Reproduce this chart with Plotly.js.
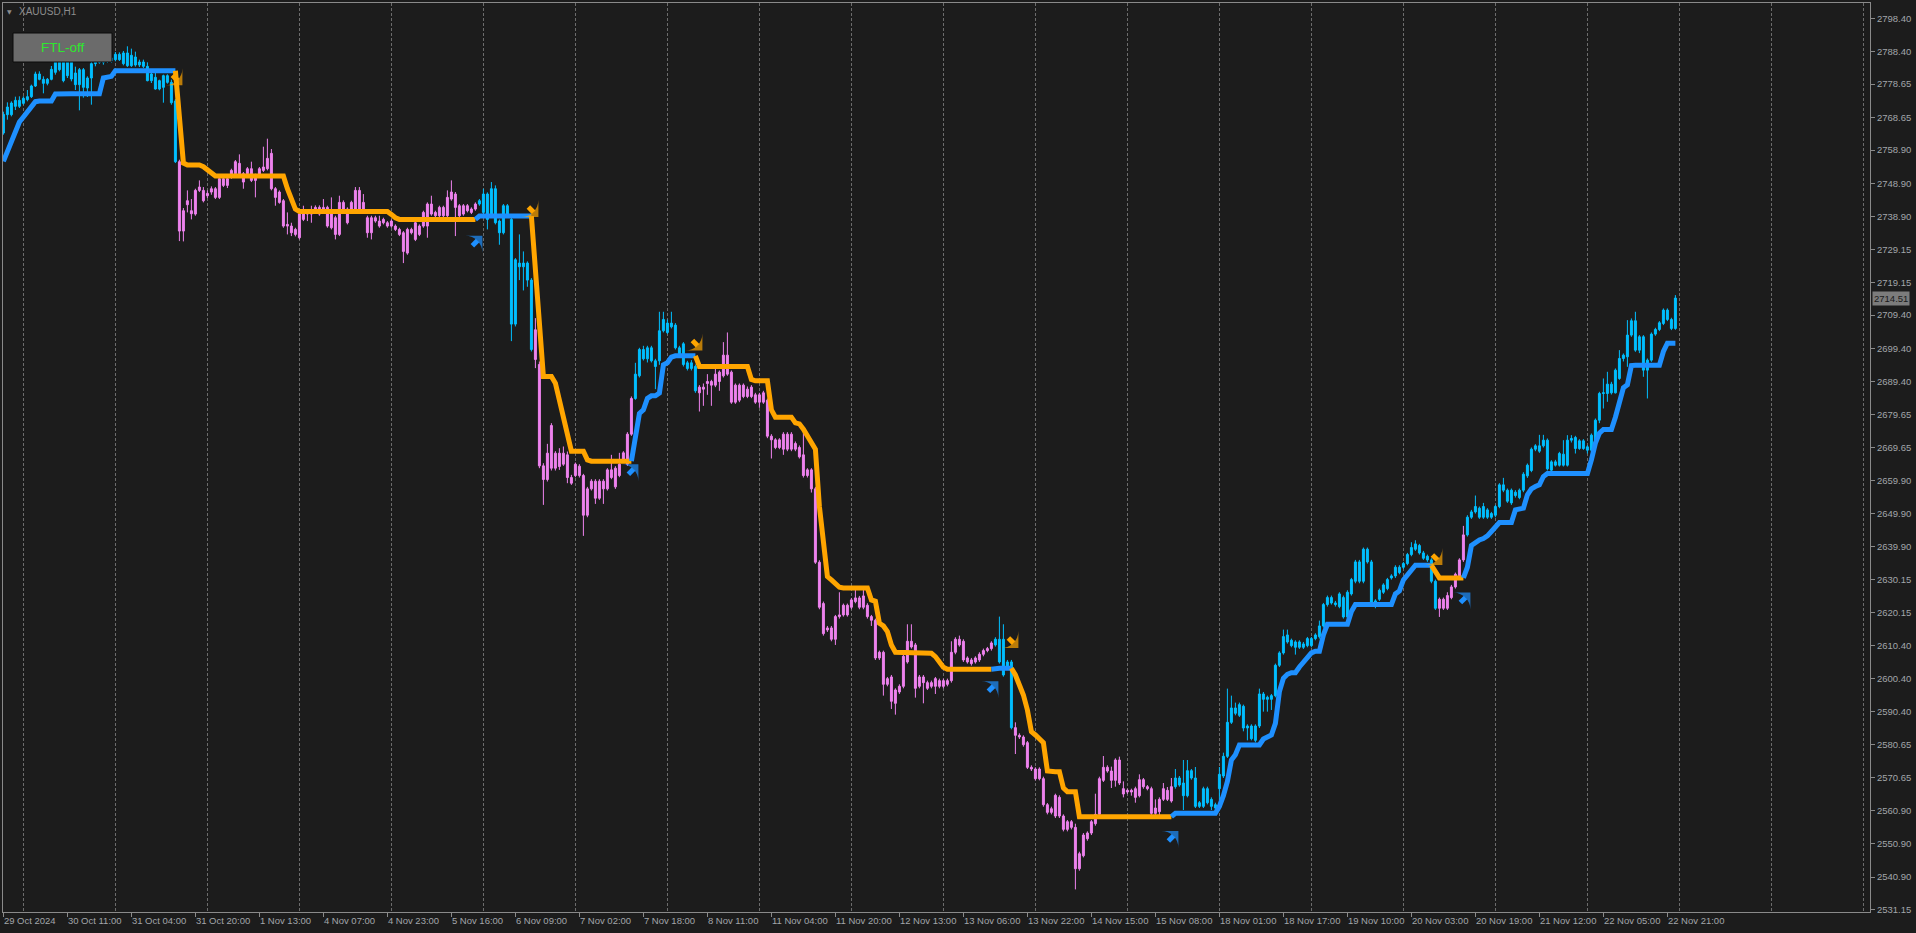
<!DOCTYPE html>
<html>
<head>
<meta charset="utf-8">
<script src="https://cdn.plot.ly/plotly-3.0.1.min.js"></script>
<style>
html,body{margin:0;padding:0;background:#1c1c1c;overflow:hidden;}
#chart{width:1916px;height:933px;}
</style>
</head>
<body>
<div id="chart"></div>
<script>
// ---------- DATA ----------
const symbolTitle = 'XAUUSD,H1';
const buttonText = 'FTL-off';

const xLabels = ['29 Oct 2024','30 Oct 11:00','31 Oct 04:00','31 Oct 20:00','1 Nov 13:00','4 Nov 07:00','4 Nov 23:00','5 Nov 16:00','6 Nov 09:00','7 Nov 02:00','7 Nov 18:00','8 Nov 11:00','11 Nov 04:00','11 Nov 20:00','12 Nov 13:00','13 Nov 06:00','13 Nov 22:00','14 Nov 15:00','15 Nov 08:00','18 Nov 01:00','18 Nov 17:00','19 Nov 10:00','20 Nov 03:00','20 Nov 19:00','21 Nov 12:00','22 Nov 05:00','22 Nov 21:00'];
const xLabelBars = [0,16,32,48,64,80,96,112,128,144,160,176,192,208,224,240,256,272,288,304,320,336,352,368,384,400,416];

const yTickLabels = ['2798.40','2788.40','2778.65','2768.65','2758.90','2748.90','2738.90','2729.15','2719.15','2709.40','2699.40','2689.40','2679.65','2669.65','2659.90','2649.90','2639.90','2630.15','2620.15','2610.40','2600.40','2590.40','2580.65','2570.65','2560.90','2550.90','2540.90','2531.15'];

const open = [
2764.0,2769.5,2769.5,2772.0,2773.8,2772.9,2774.0,2774.9,2778.1,2781.7,
2780.1,2778.9,2780.1,2782.2,2785.8,2785.5,2781.2,2785.5,2782.0,2778.5,
2783.0,2777.5,2780.5,2784.8,2786.0,2785.2,2786.3,2785.6,2786.0,2787.6,
2784.8,2788.0,2784.2,2786.8,2784.4,2785.3,2784.0,2779.7,2780.7,2777.2,
2781.2,2779.2,2779.2,2773.6,2755.4,2734.6,2742.5,2740.7,2739.7,2746.8,
2746.8,2745.2,2746.3,2747.3,2744.7,2750.3,2748.3,2750.8,2751.8,2754.9,
2751.8,2751.8,2753.3,2749.8,2751.3,2752.8,2753.3,2757.9,2747.3,2743.2,
2743.7,2736.1,2736.1,2735.1,2732.6,2738.1,2740.2,2739.7,2740.2,2741.7,
2740.7,2741.7,2735.6,2738.6,2733.6,2743.2,2741.2,2741.2,2741.2,2746.8,
2741.2,2738.6,2734.1,2738.6,2737.6,2737.1,2737.1,2736.1,2736.1,2735.1,
2734.1,2728.0,2735.1,2732.1,2736.1,2736.1,2736.1,2742.7,2739.2,2739.2,
2741.7,2739.2,2744.2,2745.7,2742.2,2739.7,2742.2,2740.2,2741.2,2742.7,
2740.2,2745.7,2739.2,2747.3,2737.6,2734.1,2742.2,2738.1,2706.7,2725.0,
2723.9,2725.0,2719.9,2705.0,2694.6,2664.2,2660.1,2663.5,2668.0,2664.0,
2668.0,2667.5,2660.7,2661.3,2664.1,2661.3,2649.4,2657.3,2659.6,2654.5,
2659.6,2657.3,2663.0,2657.9,2661.3,2665.8,2664.7,2673.7,2684.4,2691.2,
2699.1,2696.3,2699.6,2695.7,2695.7,2704.7,2707.0,2705.9,2706.4,2699.6,
2700.8,2693.4,2695.1,2694.0,2686.1,2687.8,2688.9,2689.5,2688.4,2692.3,
2691.2,2697.4,2692.3,2683.3,2688.4,2685.0,2687.2,2685.0,2685.5,2683.3,
2686.1,2683.9,2673.1,2672.0,2669.7,2673.7,2669.2,2673.7,2669.2,2669.7,
2667.5,2661.3,2663.0,2657.3,2635.3,2622.9,2615.0,2615.6,2612.2,2619.0,
2619.5,2622.4,2621.8,2623.5,2624.6,2621.8,2622.4,2619.0,2617.9,2606.6,
2608.3,2598.7,2600.9,2593.0,2596.4,2598.1,2605.4,2611.6,2610.5,2598.1,
2600.9,2599.2,2598.1,2600.4,2598.1,2599.8,2598.7,2599.8,2608.3,2612.2,
2611.6,2605.4,2606.0,2605.4,2606.0,2607.7,2608.8,2609.4,2610.5,2612.2,
2612.2,2603.7,2605.4,2585.7,2583.4,2582.9,2581.2,2573.8,2573.3,2570.4,
2570.4,2562.6,2560.3,2559.2,2564.8,2559.2,2555.2,2557.5,2555.8,2543.4,
2547.3,2552.4,2554.1,2556.9,2559.7,2569.9,2573.8,2572.7,2569.9,2576.0,
2567.4,2566.4,2566.9,2567.4,2565.3,2570.1,2568.0,2567.4,2560.0,2560.5,
2564.2,2566.9,2563.7,2568.0,2570.6,2569.1,2565.3,2572.8,2570.6,2562.1,
2562.1,2567.4,2564.2,2561.6,2567.4,2571.2,2577.1,2587.3,2591.6,2589.4,
2592.1,2585.6,2586.2,2581.9,2586.2,2595.8,2594.2,2594.2,2595.3,2604.4,
2608.1,2613.5,2611.9,2609.8,2611.4,2609.8,2610.3,2612.4,2612.4,2613.0,
2616.2,2622.6,2624.7,2623.1,2622.0,2624.7,2618.9,2625.8,2629.6,2635.4,
2629.6,2639.2,2635.4,2622.6,2624.2,2626.3,2627.4,2630.6,2631.2,2633.8,
2633.8,2634.9,2637.6,2639.2,2640.3,2638.1,2637.1,2636.0,2629.6,2621.5,
2624.2,2621.5,2624.7,2627.9,2631.2,2636.0,2643.5,2648.8,2650.4,2651.5,
2648.8,2651.0,2648.8,2649.4,2652.0,2658.5,2656.9,2653.1,2656.3,2654.7,
2656.9,2661.2,2662.8,2669.2,2670.2,2670.2,2671.9,2662.9,2665.4,2664.4,
2667.7,2664.4,2671.9,2672.7,2669.4,2671.7,2669.9,2668.9,2671.9,2677.9,
2685.9,2685.9,2688.7,2686.1,2690.4,2696.4,2696.9,2703.4,2707.7,2698.9,
2702.9,2692.9,2695.9,2703.7,2705.1,2706.9,2710.9,2708.1,2705.4];

const high = [
2770.4,2773.2,2773.5,2774.9,2775.0,2775.0,2776.9,2778.5,2782.4,2782.5,
2781.0,2780.5,2784.1,2786.5,2787.0,2786.5,2786.5,2786.5,2783.9,2783.5,
2783.5,2781.0,2785.5,2786.5,2787.0,2786.8,2787.5,2787.0,2788.3,2788.2,
2788.6,2790.0,2789.3,2788.4,2786.0,2786.0,2785.2,2782.0,2782.0,2780.0,
2781.5,2781.6,2780.0,2774.2,2756.0,2741.5,2746.8,2744.2,2747.3,2749.8,
2747.8,2746.8,2748.0,2747.8,2750.8,2751.0,2750.8,2753.3,2755.9,2757.6,
2752.3,2753.8,2755.4,2751.8,2753.8,2759.9,2762.3,2759.2,2747.8,2746.8,
2744.2,2740.2,2737.1,2735.6,2740.2,2742.2,2740.8,2742.2,2742.3,2742.3,
2744.2,2742.2,2744.7,2739.2,2745.2,2743.8,2741.7,2743.7,2747.8,2747.8,
2745.7,2739.2,2739.2,2739.2,2739.2,2738.6,2737.6,2738.1,2736.6,2735.6,
2734.6,2735.6,2735.6,2737.6,2736.6,2740.7,2743.2,2745.2,2740.7,2742.2,
2742.2,2746.8,2749.8,2746.3,2742.7,2742.7,2742.7,2741.7,2743.2,2744.2,
2747.3,2746.2,2749.3,2748.3,2738.1,2742.7,2742.7,2739.0,2726.5,2733.6,
2728.5,2725.5,2720.5,2708.5,2695.5,2665.0,2670.8,2677.0,2668.6,2669.5,
2670.0,2668.5,2661.5,2665.2,2664.7,2661.8,2657.9,2660.2,2660.2,2660.2,
2660.2,2663.5,2667.5,2664.1,2668.1,2668.6,2674.3,2685.0,2695.1,2699.6,
2700.2,2700.2,2700.2,2696.3,2710.4,2710.4,2708.1,2710.4,2707.0,2700.2,
2701.3,2695.7,2695.9,2694.6,2688.4,2688.9,2691.7,2690.0,2694.6,2692.8,
2701.3,2704.2,2692.8,2688.9,2688.9,2688.9,2688.0,2688.4,2686.1,2686.1,
2686.7,2684.4,2673.7,2672.5,2672.5,2674.3,2674.3,2674.3,2671.5,2670.3,
2674.3,2663.5,2663.5,2657.9,2635.9,2623.5,2616.2,2616.2,2619.5,2626.3,
2622.9,2622.9,2624.6,2627.4,2625.2,2627.4,2623.0,2619.5,2618.4,2608.8,
2608.8,2600.9,2601.5,2597.5,2598.7,2607.7,2616.7,2616.7,2611.1,2601.5,
2601.5,2599.8,2599.8,2600.9,2600.4,2600.4,2600.4,2611.6,2612.8,2613.3,
2612.2,2607.1,2606.6,2607.1,2608.3,2609.4,2609.9,2611.6,2612.8,2619.0,
2616.7,2606.0,2606.0,2587.3,2584.0,2583.4,2581.7,2574.4,2573.8,2573.8,
2571.0,2563.1,2562.0,2565.9,2565.4,2559.7,2558.0,2558.0,2556.9,2548.5,
2554.1,2554.6,2558.0,2565.9,2571.0,2577.2,2574.4,2574.0,2576.5,2577.0,
2569.6,2567.4,2567.4,2568.0,2571.7,2570.6,2568.5,2568.0,2564.2,2564.8,
2569.1,2567.9,2570.6,2573.3,2571.2,2576.0,2576.0,2573.3,2573.9,2563.7,
2568.0,2568.0,2564.8,2563.2,2573.9,2578.2,2597.4,2595.3,2593.2,2593.2,
2592.6,2586.7,2586.7,2586.7,2597.4,2596.4,2595.3,2595.8,2604.9,2608.6,
2615.1,2615.1,2612.4,2611.9,2611.9,2611.4,2612.9,2612.9,2614.0,2617.8,
2623.1,2625.3,2625.3,2623.7,2626.3,2625.3,2626.9,2630.6,2636.0,2636.0,
2639.7,2639.7,2636.0,2624.2,2627.4,2629.0,2630.6,2631.7,2634.4,2634.4,
2635.4,2638.1,2641.3,2641.9,2640.8,2638.7,2637.6,2636.5,2630.1,2624.7,
2624.7,2626.3,2628.5,2632.2,2636.5,2646.2,2649.4,2651.0,2655.3,2652.0,
2653.1,2651.5,2650.4,2652.5,2659.0,2660.6,2657.4,2657.4,2656.9,2657.4,
2662.3,2664.9,2669.7,2670.7,2673.5,2673.5,2672.4,2665.9,2666.0,2668.4,
2671.9,2673.4,2673.4,2673.2,2672.2,2672.2,2670.4,2673.9,2678.4,2686.4,
2690.4,2692.4,2689.4,2693.4,2698.9,2697.9,2707.9,2708.4,2710.4,2703.4,
2703.4,2696.4,2704.2,2705.6,2707.6,2711.4,2711.4,2708.6,2715.4];

const low = [
2763.5,2768.0,2769.0,2770.9,2771.5,2772.5,2773.5,2774.5,2777.8,2779.8,
2775.9,2778.3,2779.8,2781.5,2782.5,2779.2,2780.5,2779.5,2776.9,2770.8,
2774.6,2774.8,2772.5,2784.0,2784.8,2784.5,2785.0,2785.0,2785.5,2785.6,
2784.3,2783.8,2783.8,2783.9,2783.8,2783.5,2779.5,2779.0,2777.0,2776.8,
2773.1,2778.8,2772.5,2755.0,2731.6,2731.5,2740.2,2738.1,2739.2,2746.3,
2743.2,2744.5,2745.5,2744.2,2744.2,2747.8,2747.5,2750.3,2751.3,2751.5,
2747.3,2751.0,2749.3,2744.7,2750.8,2752.3,2752.8,2746.8,2742.2,2742.8,
2735.6,2733.6,2733.1,2733.0,2732.1,2737.6,2737.6,2737.1,2739.8,2739.2,
2740.2,2735.6,2735.1,2732.1,2733.1,2740.7,2736.6,2740.7,2740.7,2740.7,
2740.7,2732.6,2732.1,2737.1,2735.6,2736.6,2735.6,2735.6,2734.6,2733.1,
2725.0,2727.5,2733.6,2731.6,2733.1,2735.6,2732.6,2739.2,2738.6,2738.6,
2738.6,2738.6,2743.7,2733.1,2738.6,2739.2,2740.2,2739.7,2740.7,2742.2,
2739.7,2735.1,2738.6,2736.6,2730.5,2733.6,2739.2,2701.6,2706.0,2719.9,
2716.8,2717.9,2698.5,2693.5,2663.5,2652.5,2659.5,2662.8,2662.8,2663.0,
2664.2,2659.0,2658.5,2660.8,2660.7,2643.2,2648.8,2656.8,2652.8,2654.0,
2652.8,2656.8,2660.2,2657.3,2660.8,2665.2,2664.2,2673.2,2684.0,2690.7,
2695.8,2695.2,2695.2,2687.2,2694.5,2704.2,2703.7,2705.4,2699.1,2696.8,
2694.0,2692.8,2692.8,2686.1,2680.5,2682.2,2685.5,2682.2,2687.8,2686.7,
2690.7,2691.2,2682.8,2682.8,2683.3,2684.5,2684.5,2684.5,2682.8,2681.6,
2682.8,2672.5,2666.4,2669.2,2669.2,2667.5,2668.6,2668.6,2668.6,2666.4,
2660.7,2660.7,2656.2,2634.8,2621.2,2613.3,2614.4,2611.6,2610.5,2618.4,
2619.0,2619.0,2621.2,2623.0,2621.2,2621.2,2618.4,2616.2,2606.0,2606.0,
2595.3,2598.1,2591.3,2589.6,2595.8,2597.5,2604.9,2609.4,2594.7,2597.5,
2593.0,2597.0,2597.5,2595.8,2597.5,2597.5,2598.1,2599.2,2607.7,2610.0,
2605.4,2604.9,2604.3,2604.9,2605.4,2607.1,2608.3,2608.8,2610.0,2604.9,
2601.0,2603.2,2585.2,2577.8,2582.3,2580.0,2573.3,2572.7,2569.9,2569.9,
2562.0,2559.7,2559.7,2558.6,2558.6,2554.6,2554.6,2555.2,2537.2,2542.8,
2546.8,2551.8,2553.5,2556.3,2559.2,2569.4,2572.2,2567.6,2568.0,2568.5,
2564.8,2565.8,2565.3,2563.2,2564.8,2567.4,2566.9,2558.9,2559.5,2558.9,
2563.7,2563.7,2563.2,2567.4,2568.0,2561.0,2564.8,2570.1,2561.6,2561.6,
2561.6,2562.7,2561.0,2561.0,2562.0,2570.6,2576.6,2586.8,2589.4,2588.9,
2584.6,2581.9,2581.9,2581.3,2585.6,2590.5,2590.5,2591.0,2594.8,2603.9,
2607.6,2610.9,2609.8,2607.6,2609.3,2609.3,2609.8,2609.8,2611.9,2612.4,
2615.7,2622.0,2622.6,2622.0,2621.5,2618.4,2618.4,2625.3,2629.0,2629.0,
2629.0,2634.9,2622.6,2621.5,2623.7,2625.8,2626.9,2630.1,2630.6,2631.7,
2633.3,2634.4,2637.1,2638.7,2637.6,2636.0,2635.4,2629.0,2621.0,2618.9,
2621.0,2621.0,2624.2,2627.4,2630.6,2635.4,2643.0,2648.3,2649.9,2648.3,
2648.3,2648.3,2648.3,2648.8,2651.5,2656.3,2653.1,2652.5,2654.7,2654.2,
2656.3,2660.6,2662.3,2668.6,2668.1,2669.7,2662.8,2662.4,2664.0,2664.0,
2664.0,2664.0,2671.2,2667.9,2669.0,2669.0,2667.9,2668.4,2671.5,2677.0,
2681.4,2683.4,2685.6,2685.9,2690.0,2695.5,2693.9,2702.9,2698.4,2698.0,
2690.9,2684.4,2695.4,2703.2,2704.6,2706.4,2707.6,2704.9,2705.0];

const close = [
2769.6,2771.8,2773.0,2773.8,2772.0,2774.4,2774.9,2778.1,2781.7,2780.1,
2778.9,2780.1,2783.1,2785.8,2783.0,2779.7,2785.5,2780.2,2778.5,2783.0,
2777.7,2780.5,2784.8,2786.0,2785.2,2786.3,2785.6,2786.5,2787.6,2786.0,
2788.0,2784.2,2787.3,2784.4,2785.3,2784.0,2779.7,2781.7,2777.2,2779.7,
2777.7,2781.2,2773.1,2755.4,2734.6,2740.7,2743.7,2739.8,2746.8,2747.8,
2743.7,2745.9,2747.3,2744.7,2750.3,2748.3,2750.3,2752.8,2755.4,2751.8,
2749.3,2753.3,2749.8,2751.3,2753.3,2753.8,2756.4,2747.3,2744.7,2746.3,
2736.1,2736.6,2734.1,2733.6,2739.7,2740.2,2739.7,2739.9,2741.7,2739.7,
2741.7,2736.1,2740.2,2733.6,2743.2,2741.2,2737.1,2743.2,2746.8,2741.2,
2743.2,2734.1,2738.6,2737.6,2736.1,2738.1,2736.1,2737.6,2735.1,2733.6,
2728.5,2735.1,2734.1,2737.1,2733.6,2740.2,2742.7,2739.7,2740.2,2741.7,
2739.2,2744.7,2746.3,2741.7,2739.2,2742.2,2740.7,2741.2,2742.7,2743.7,
2745.7,2738.1,2747.3,2737.1,2734.1,2742.2,2739.7,2706.7,2726.0,2723.9,
2725.0,2719.9,2699.1,2696.1,2664.2,2660.1,2668.0,2676.3,2663.5,2668.0,
2664.7,2660.7,2659.0,2664.7,2661.3,2649.4,2657.3,2659.6,2654.5,2659.6,
2657.3,2663.0,2660.7,2663.5,2664.7,2668.1,2673.7,2684.4,2691.7,2699.1,
2696.3,2699.6,2695.7,2694.0,2704.7,2708.1,2704.2,2707.0,2699.6,2697.4,
2694.6,2695.1,2693.4,2686.7,2687.8,2687.2,2689.5,2688.4,2691.7,2689.5,
2697.4,2691.7,2683.3,2688.4,2683.9,2688.4,2685.0,2687.8,2683.3,2685.5,
2683.3,2673.1,2672.0,2669.7,2672.0,2669.2,2673.7,2669.2,2670.9,2666.9,
2661.3,2663.0,2657.3,2635.3,2621.8,2613.9,2615.6,2612.2,2619.0,2619.5,
2622.4,2619.5,2624.0,2624.6,2621.8,2625.2,2619.0,2617.9,2606.6,2608.3,
2598.7,2600.4,2593.6,2597.0,2598.1,2607.1,2611.6,2609.9,2597.5,2600.9,
2599.2,2597.5,2599.2,2598.1,2599.8,2598.1,2599.8,2608.3,2612.2,2610.5,
2606.0,2606.6,2604.9,2606.6,2607.7,2608.8,2609.4,2611.1,2612.2,2605.4,
2601.5,2605.4,2585.7,2583.4,2582.9,2580.6,2573.8,2573.3,2570.4,2573.3,
2562.6,2560.3,2561.4,2565.4,2559.2,2555.2,2557.5,2555.8,2543.4,2547.9,
2553.5,2554.1,2557.5,2559.7,2570.4,2573.8,2572.7,2569.9,2576.0,2569.1,
2565.8,2566.9,2566.4,2564.8,2570.1,2568.0,2567.4,2560.0,2561.6,2564.2,
2567.4,2564.2,2568.0,2570.6,2568.5,2565.3,2572.8,2570.6,2562.1,2563.2,
2567.4,2563.2,2562.1,2562.6,2571.7,2577.1,2587.3,2591.6,2590.0,2592.6,
2585.6,2586.2,2582.4,2586.2,2595.8,2594.2,2594.8,2595.3,2604.4,2608.1,
2613.0,2611.4,2610.3,2611.4,2609.8,2610.8,2612.4,2610.3,2613.5,2616.2,
2622.6,2624.7,2623.1,2622.6,2625.8,2618.9,2626.3,2630.1,2635.4,2629.6,
2639.2,2635.4,2623.1,2623.7,2626.9,2628.5,2630.1,2631.2,2633.8,2632.2,
2634.9,2637.6,2639.7,2640.8,2638.1,2636.5,2636.0,2629.6,2621.5,2624.2,
2621.5,2625.3,2627.9,2631.7,2636.0,2643.5,2648.8,2650.4,2652.0,2648.8,
2652.0,2648.8,2649.9,2652.0,2658.5,2656.9,2653.6,2656.9,2655.3,2656.9,
2661.7,2664.4,2669.2,2670.2,2668.6,2671.9,2663.3,2665.4,2664.4,2667.9,
2664.4,2671.9,2672.4,2669.4,2671.7,2669.4,2668.9,2673.4,2677.9,2685.9,
2686.1,2688.7,2686.1,2692.9,2696.4,2697.4,2703.4,2707.7,2698.9,2702.9,
2692.9,2695.9,2703.7,2705.1,2707.1,2710.9,2708.1,2705.4,2714.51];

// FTL trailing line value per bar
const ftl = [
2755.5,2758.5,2762.0,2765.2,2767.3,2768.8,2770.2,2772.0,2773.4,2773.6,
2773.6,2773.6,2773.6,2775.7,2775.8,2775.8,2775.8,2775.8,2775.8,2775.8,
2775.8,2775.8,2775.8,2775.8,2775.8,2780.5,2780.8,2781.0,2782.7,2782.7,
2782.7,2782.7,2782.7,2782.7,2782.7,2782.7,2782.7,2782.7,2782.7,2782.7,
2782.7,2782.7,2782.7,2782.7,2768.5,2755.0,2754.4,2754.4,2754.4,2754.4,
2753.9,2753.1,2752.2,2751.1,2751.1,2751.1,2751.1,2751.1,2751.1,2751.1,
2751.1,2751.1,2751.1,2751.1,2751.1,2751.1,2751.1,2751.1,2751.1,2751.1,
2751.1,2747.3,2744.2,2741.2,2740.5,2740.5,2740.5,2740.5,2740.5,2740.5,
2740.5,2740.5,2740.5,2740.5,2740.5,2740.5,2740.5,2740.5,2740.5,2740.5,
2740.5,2740.5,2740.5,2740.5,2740.5,2740.5,2740.5,2739.6,2738.6,2738.1,
2738.1,2738.1,2738.1,2738.1,2738.1,2738.1,2738.1,2738.1,2738.1,2738.1,
2738.1,2738.1,2738.1,2738.1,2738.1,2738.1,2738.1,2738.1,2738.1,2739.1,
2739.1,2739.1,2739.1,2739.1,2739.1,2739.1,2739.1,2739.1,2739.1,2739.1,
2739.1,2739.1,2739.1,2722.0,2710.0,2691.0,2691.0,2691.0,2689.0,2684.0,
2680.0,2675.0,2668.6,2668.6,2668.6,2668.6,2666.0,2665.6,2665.6,2665.6,
2665.6,2665.6,2665.6,2665.6,2665.6,2665.6,2665.6,2665.6,2672.6,2679.9,
2681.0,2684.4,2685.2,2685.2,2686.0,2694.5,2695.1,2696.8,2697.2,2697.2,
2697.2,2697.2,2697.2,2697.2,2694.0,2694.0,2694.0,2694.0,2694.0,2694.0,
2694.0,2694.0,2694.0,2694.0,2694.0,2694.0,2694.0,2690.1,2689.7,2689.7,
2689.7,2689.7,2681.0,2678.8,2678.8,2678.8,2678.8,2678.8,2677.1,2676.8,
2675.2,2673.0,2670.9,2669.2,2652.0,2640.0,2631.0,2630.0,2629.1,2627.8,
2627.6,2627.6,2627.6,2627.6,2627.6,2627.6,2627.6,2624.0,2623.6,2617.0,
2616.2,2614.5,2610.5,2608.3,2608.3,2608.3,2608.3,2608.3,2608.3,2608.3,
2608.3,2608.3,2608.0,2607.0,2605.5,2603.8,2603.2,2603.2,2603.2,2603.2,
2603.2,2603.2,2603.2,2603.2,2603.2,2603.2,2603.2,2603.2,2603.5,2603.5,
2603.5,2603.5,2603.5,2601.5,2598.5,2595.5,2591.0,2584.5,2583.5,2582.5,
2581.2,2572.7,2572.5,2572.5,2572.5,2567.6,2566.5,2566.5,2566.5,2559.0,
2559.0,2559.0,2559.0,2559.0,2559.0,2559.0,2559.0,2559.0,2559.0,2559.0,
2559.0,2559.0,2559.0,2559.0,2559.0,2559.0,2559.0,2559.0,2559.0,2559.0,
2559.0,2559.0,2559.0,2560.0,2560.0,2560.0,2560.0,2560.0,2560.0,2560.0,
2560.0,2560.0,2560.0,2560.0,2562.1,2565.3,2569.6,2576.0,2577.6,2580.5,
2580.5,2580.5,2580.5,2580.5,2580.5,2582.3,2583.0,2583.5,2587.0,2596.5,
2600.5,2601.7,2602.2,2602.2,2603.9,2605.5,2607.1,2608.1,2608.6,2608.6,
2613.5,2616.7,2616.7,2616.7,2616.7,2616.7,2616.7,2620.5,2622.6,2622.6,
2622.6,2622.6,2622.6,2622.6,2622.6,2622.6,2622.6,2622.6,2625.8,2626.7,
2630.0,2631.5,2632.4,2634.4,2634.4,2634.4,2634.4,2634.4,2632.8,2630.6,
2630.6,2630.6,2630.6,2630.6,2630.6,2630.6,2633.8,2640.3,2641.3,2642.0,
2642.4,2643.2,2644.5,2645.6,2647.2,2647.2,2647.2,2647.2,2651.0,2651.2,
2651.5,2655.5,2657.3,2658.0,2658.5,2661.0,2661.9,2661.9,2661.9,2661.9,
2661.9,2661.9,2661.9,2661.9,2661.9,2661.9,2661.9,2666.0,2671.0,2674.0,
2675.1,2675.1,2675.1,2678.8,2684.0,2687.6,2688.5,2694.3,2694.4,2694.4,
2694.4,2694.4,2694.4,2694.4,2694.4,2698.5,2701.0,2701.0,2701.0];

// trend of each candle (first bar, last bar, direction)
const candleTrend = [[0,43,'up'],[44,118,'down'],[119,132,'up'],[133,157,'down'],[158,173,'up'],[174,247,'down'],[248,252,'up'],[253,292,'down'],[293,358,'up'],[359,365,'down'],[366,418,'up']];
// FTL line colour segments (first bar, last bar, direction)
const lineTrend = [[0,43,'up'],[43,118,'down'],[118,132,'up'],[132,157,'down'],[157,173,'up'],[173,247,'down'],[247,252,'up'],[252,292,'down'],[292,357,'up'],[357,365,'down'],[365,418,'up']];
// signal arrows (centre of each arrow)
const arrowBars   = [44, 119, 133, 158, 174, 248, 253, 293, 359, 366];
const arrowPrices = [2779.2, 2732.3, 2739.7, 2663.8, 2699.7, 2598.7, 2610.5, 2553.8, 2635.4, 2625.3];
const arrowDirs   = ['down','up','down','up','down','up','down','up','down','up'];

// ---------- STYLE ----------
const BG = '#1c1c1c';
const CANDLE_UP = '#00BFFF', CANDLE_DN = '#EE82EE';
const LINE_UP = '#1E90FF', LINE_DN = '#FFA500';
const AXIS = '#8a8a8a', LABEL = '#a2a6aa', GRID = '#6c6c6c';
const FONT = 'Liberation Sans, Arial, sans-serif';
const W = 1916, H = 933;
const M = {l:3, r:46, t:3, b:21};
const plotW = W - M.l - M.r, plotH = H - M.t - M.b;
const px2paperX = p => (p - M.l) / plotW;
const px2paperY = p => 1 - (p - M.t) / plotH;
const PX_PER_BAR = 4, PX_PER_USD = 3.335;

const state = new Array(close.length);
candleTrend.forEach(([a,b,d]) => { for (let i=a;i<=b;i++) state[i]=d; });

function candles(dir, color){
  const x=[],o=[],h=[],l=[],c=[];
  for (let i=0;i<close.length;i++){ if(state[i]===dir){ x.push(i);o.push(open[i]);h.push(high[i]);l.push(low[i]);c.push(close[i]); } }
  return {type:'candlestick', x:x, open:o, high:h, low:l, close:c, xaxis:'x', yaxis:'y',
    increasing:{line:{color:color,width:1}, fillcolor:color},
    decreasing:{line:{color:color,width:1}, fillcolor:color},
    whiskerwidth:0, hoverinfo:'skip', showlegend:false};
}

const traces = [candles('up', CANDLE_UP), candles('down', CANDLE_DN)];

lineTrend.forEach(([a,b,d]) => {
  const x=[], y=[];
  for (let i=a;i<=b;i++){ x.push(i); y.push(ftl[i]); }
  traces.push({type:'scatter', mode:'lines', x:x, y:y, xaxis:'x', yaxis:'y',
    line:{color: d==='up'?LINE_UP:LINE_DN, width:5}, hoverinfo:'skip', showlegend:false});
});

// signal arrows: short thick stem with an arrow head oriented along it
arrowBars.forEach((b,k) => {
  const up = arrowDirs[k]==='up';
  const col = up ? LINE_UP : LINE_DN;
  const p = arrowPrices[k];
  // offsets in pixels from the arrow centre (screen y grows downward)
  const tail = up ? [-7, 7] : [-7, -7];
  const tip  = up ? [3, -3] : [3, 3];
  const xs = [b + tail[0]/PX_PER_BAR, b + tip[0]/PX_PER_BAR];
  const ys = [p - tail[1]/PX_PER_USD, p - tip[1]/PX_PER_USD];
  traces.push({type:'scatter', mode:'lines+markers', xaxis:'x2', yaxis:'y',
    x:xs, y:ys, line:{color:col, width:5},
    marker:{symbol:'arrow-wide', angleref:'previous', size:[0,17], color:col, line:{width:0}},
    cliponaxis:false, hoverinfo:'skip', showlegend:false});
});

const xMin = -0.1, xMax = xMin + plotW/PX_PER_BAR;
const yTop = 2798.4 + (18.3 - M.t)/PX_PER_USD;
const yBot = yTop - plotH/PX_PER_USD;

const lastClose = close[close.length-1];

const layout = {
  width: W, height: H,
  margin: {l:M.l, r:M.r, t:M.t, b:M.b, pad:0},
  paper_bgcolor: BG, plot_bgcolor: BG,
  showlegend:false,
  hovermode:false,
  dragmode:false,
  xaxis: {
    range:[xMin, xMax], fixedrange:true,
    rangeslider:{visible:false},
    tickmode:'linear', tick0:5, dtick:23,
    showticklabels:false, ticks:'',
    showgrid:true, gridcolor:GRID, gridwidth:1, griddash:'3px,2px',
    zeroline:false,
    showline:true, linecolor:AXIS, linewidth:1, mirror:true,
    automargin:false
  },
  xaxis2: {
    overlaying:'x', matches:'x', side:'bottom', anchor:'y',
    range:[xMin, xMax], fixedrange:true,
    tickmode:'array', tickvals:xLabelBars, ticktext:xLabels,
    tickangle:0,
    ticks:'outside', ticklen:4, tickcolor:AXIS, tickwidth:1,
    ticklabelposition:'outside right',
    tickfont:{family:FONT, size:9.5, color:LABEL},
    showgrid:false, zeroline:false, showline:false, automargin:false
  },
  yaxis: {
    side:'right', range:[yBot, yTop], fixedrange:true,
    tickmode:'array', tickvals:yTickLabels.map(Number), ticktext:yTickLabels,
    ticks:'outside', ticklen:4, tickcolor:AXIS, tickwidth:1,
    tickfont:{family:FONT, size:9.5, color:LABEL},
    showgrid:false, zeroline:false,
    showline:true, linecolor:AXIS, linewidth:1, mirror:true,
    automargin:false
  },
  shapes: [{
    type:'rect', layer:'above',
    xref:'paper', yref:'paper',
    x0:px2paperX(13), x1:px2paperX(112), y0:px2paperY(62), y1:px2paperY(33),
    fillcolor:'#6b6b6b', line:{color:'#0a0a0a', width:1}
  }],
  annotations: [
    {xref:'paper', yref:'paper', x:px2paperX(62.5), y:px2paperY(47.5), xanchor:'center', yanchor:'middle',
     text:buttonText, showarrow:false, font:{family:FONT, size:13.5, color:'#2ee82e'}},
    {xref:'paper', yref:'paper', x:px2paperX(9.8), y:px2paperY(11), xanchor:'center', yanchor:'middle',
     text:'▼', showarrow:false, font:{family:'DejaVu Sans', size:6, color:'#8c8c8c'}},
    {xref:'paper', yref:'paper', x:px2paperX(16.5), y:px2paperY(11), xanchor:'left', yanchor:'middle',
     text:symbolTitle, showarrow:false, font:{family:FONT, size:10, color:'#8c8c8c'}},
    {xref:'paper', yref:'y', x:1, y:lastClose, xanchor:'left', yanchor:'middle', xshift:2,
     text:lastClose.toFixed(2), showarrow:false, bgcolor:'#7c7c7c', borderpad:1,
     font:{family:FONT, size:9.5, color:'#1a1a1a'}}
  ]
};

Plotly.newPlot('chart', traces, layout, {staticPlot:true, displayModeBar:false});
</script>
</body>
</html>
